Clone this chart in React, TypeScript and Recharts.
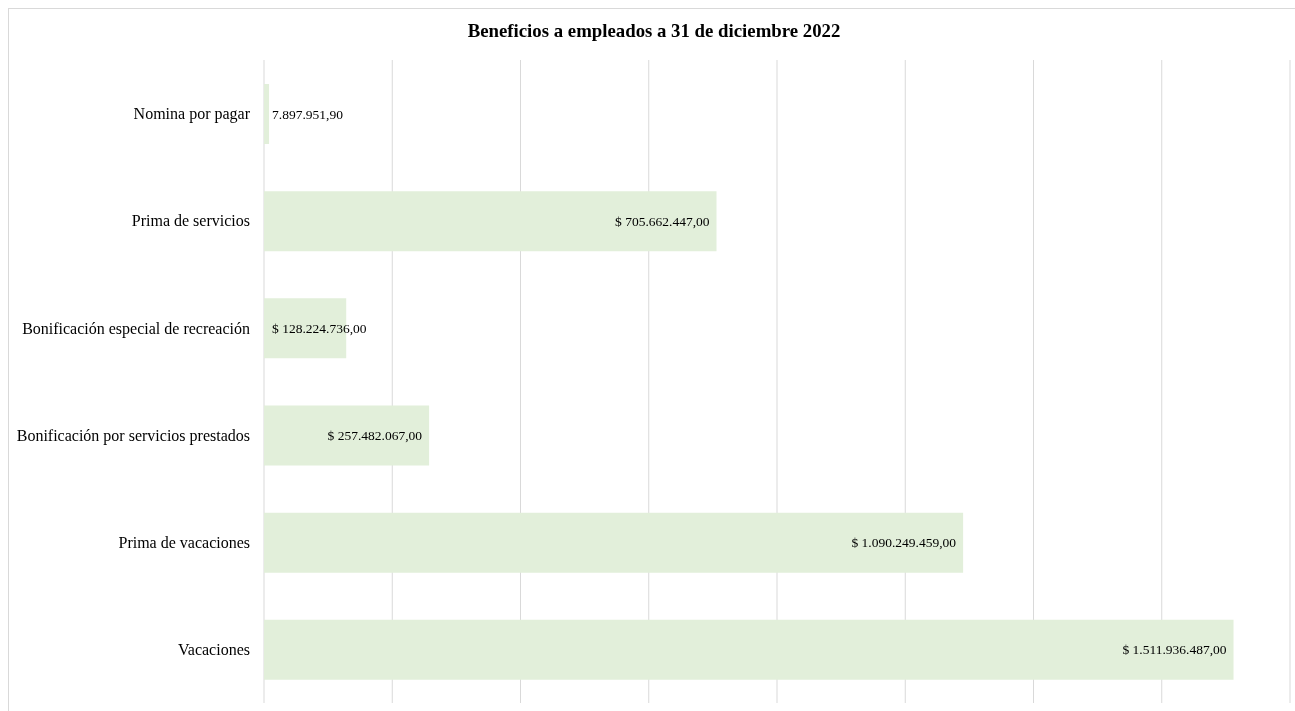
import React from "react";
import { BarChart, Bar, XAxis, YAxis, CartesianGrid, LabelList } from "recharts";

const categories = [
  "Nomina por pagar",
  "Prima de servicios",
  "Bonificación especial de recreación",
  "Bonificación por servicios prestados",
  "Prima de vacaciones",
  "Vacaciones",
];
const amounts = [7897951.9, 705662447, 128224736, 257482067, 1090249459, 1511936487];
const amountLabels = [
  "7.897.951,90",
  "$ 705.662.447,00",
  "$ 128.224.736,00",
  "$ 257.482.067,00",
  "$ 1.090.249.459,00",
  "$ 1.511.936.487,00",
];
const xTicks = [0, 200000000, 400000000, 600000000, 800000000, 1000000000, 1200000000, 1400000000, 1600000000];
const xMax = 1600000000;

const data = categories.map((name, i) => ({ name, value: amounts[i] }));

const FONT = "'Liberation Serif', 'Times New Roman', serif";

function ValueLabel(props: any) {
  const { x, y, width, height, index } = props;
  const text = amountLabels[index];
  const approx = text.length * 6.3;
  const fits = width > approx + 14;
  return (
    <text
      x={fits ? x + width - 7 : x + 8}
      y={y + height / 2}
      textAnchor={fits ? "end" : "start"}
      dominantBaseline="central"
      fontFamily={FONT}
      fontSize={13.5}
      fill="#000"
    >
      {text}
    </text>
  );
}

// grid lines at the x ticks
function gridX(props: any) {
  const s = props?.xAxis?.scale;
  if (typeof s === "function") return xTicks.map((t) => s(t));
  const { left, width } = props.offset;
  return xTicks.map((t) => left + (width * t) / xMax);
}

export default function App() {
  return (
    <div
      style={{
        position: "fixed",
        left: 8,
        top: 8,
        width: 1287,
        height: 703,
        overflow: "hidden",
      }}
    >
      <div
        style={{
          position: "relative",
          width: 1300,
          height: 720,
          border: "1px solid #d9d9d9",
          boxSizing: "border-box",
          fontFamily: FONT,
        }}
      >
        <div
          style={{
            position: "absolute",
            top: 11,
            left: 0,
            width: 1290,
            textAlign: "center",
            fontWeight: "bold",
            fontSize: 18.8,
            color: "#000",
          }}
        >
          Beneficios a empleados a 31 de diciembre 2022
        </div>
        <BarChart
          width={1286}
          height={700}
          data={data}
          layout="vertical"
          margin={{ top: 51, right: 5, bottom: 6, left: 0 }}
          barSize={60}
        >
          <CartesianGrid horizontal={false} stroke="#d9d9d9" verticalCoordinatesGenerator={gridX} />
          <XAxis
            type="number"
            domain={[0, xMax]}
            ticks={xTicks}
            axisLine={false}
            tickLine={false}
            tick={false}
            height={0}
          />
          <YAxis
            type="category"
            dataKey="name"
            width={255}
            axisLine={false}
            tickLine={false}
            tickMargin={8}
            tick={{ fill: "#000", fontSize: 16, fontFamily: FONT }}
          />
          <Bar dataKey="value" fill="#e2efda" isAnimationActive={false}>
            <LabelList dataKey="value" content={ValueLabel} />
          </Bar>
        </BarChart>
      </div>
    </div>
  );
}
